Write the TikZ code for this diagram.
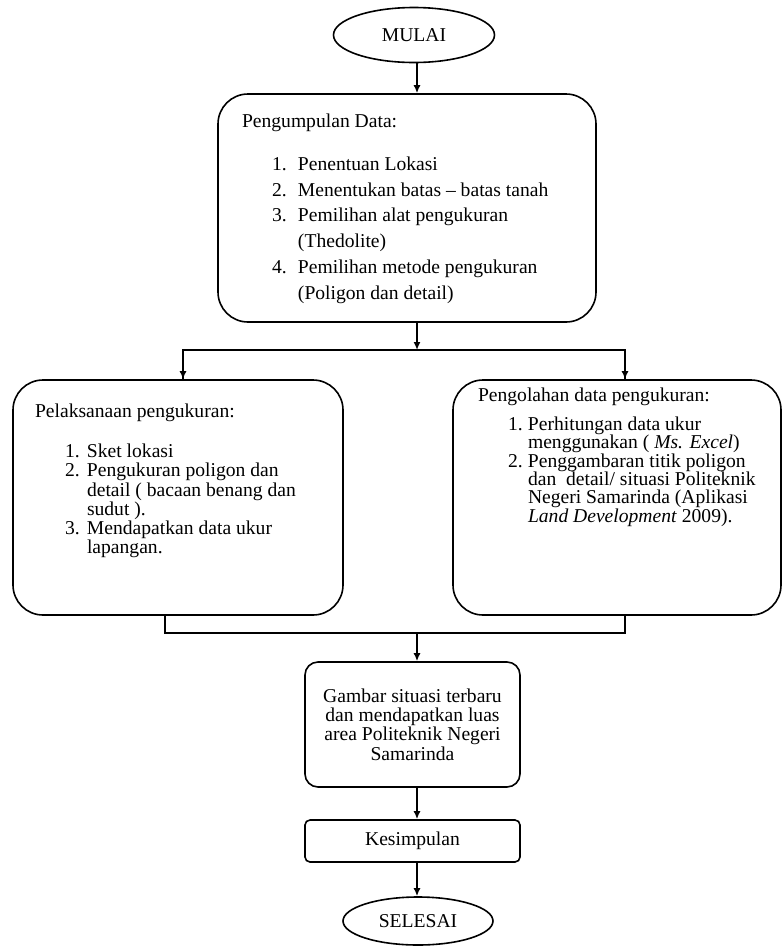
\documentclass[tikz,border=0pt]{standalone}
\usepackage{fontspec}
\setmainfont{Liberation Serif}
\usetikzlibrary{calc,shapes.geometric,arrows.meta}

\newlength{\butirkiri}
\newlength{\butirno}
\newcommand{\butir}[2]{\par\hangindent=\dimexpr\butirkiri+\butirno\relax\hangafter=1
    \noindent\hspace*{\butirkiri}\makebox[\butirno][l]{#1}#2}

\begin{document}
\begin{tikzpicture}[
        x=0.5pt,y=-0.5pt
        ,kotak/.style={draw=black,line width=0.8pt,rounded corners=15pt}
        ,ujung/.style={draw=black,line width=0.8pt,ellipse,inner sep=0pt}
        ,panah/.style={line width=0.8pt,-{Latex[length=4pt,width=3.5pt]}}
        ,garis/.style={line width=0.8pt}
    ]
    \useasboundingbox (0,0) rectangle (782,949);
    % Sumbu tengah dan titik cabang
    \coordinate (sumbu) at (417,0);
    \coordinate (cabang) at (417,350);
    \coordinate (gabung) at (417,633);
    % Awal
    \node[ujung,minimum width=80.5pt,minimum height=27.5pt,font=\fontsize{9.8}{11}\selectfont]
        (mulai) at (414,35) {MULAI};
    % Pengumpulan data
    \node[kotak,inner xsep=12pt,inner ysep=10pt] (kumpul) at (407,208) {%
        \begin{minipage}[t][94pt][t]{165pt}
            \fontsize{9.8}{12.85}\selectfont\raggedright
            \setlength{\butirkiri}{15pt}\setlength{\butirno}{13pt}%
            Pengumpulan Data:\par\vspace{8.6pt}
            \butir{1.}{Penentuan Lokasi}
            \butir{2.}{Menentukan batas -- batas tanah}
            \butir{3.}{Pemilihan alat pengukuran\newline (Thedolite)}
            \butir{4.}{Pemilihan metode pengukuran\newline (Poligon dan detail)}
        \end{minipage}};
    % Pelaksanaan pengukuran
    \node[kotak,inner xsep=11pt,inner ysep=12pt] (ukur) at (178,497.5) {%
        \begin{minipage}[t][93.5pt][t]{143pt}
            \fontsize{9.8}{9.6}\selectfont\raggedright
            \setlength{\butirkiri}{15pt}\setlength{\butirno}{11pt}%
            Pelaksanaan pengukuran:\par\vspace{10.4pt}
            \butir{1.}{Sket lokasi}
            \butir{2.}{Pengukuran poligon dan\newline detail ( bacaan benang dan\newline sudut ).}
            \butir{3.}{Mendapatkan data ukur\newline lapangan.}
        \end{minipage}};
    % Pengolahan data
    \node[kotak,inner xsep=12.5pt,inner ysep=4pt] (olah) at (617,497.5) {%
        \begin{minipage}[t][109.5pt][t]{139pt}
            \fontsize{9.8}{9.15}\selectfont\raggedright
            \setlength{\butirkiri}{15pt}\setlength{\butirno}{10pt}%
            Pengolahan data pengukuran:\par\vspace{5.3pt}
            \butir{1.}{Perhitungan data ukur\newline menggunakan ( \textit{Ms. Excel})}
            \butir{2.}{Penggambaran titik poligon\newline dan\ \ detail/ situasi Politeknik\newline
                Negeri Samarinda (Aplikasi\newline \textit{Land Development} 2009).}
        \end{minipage}};
    % Hasil
    \node[kotak,rounded corners=6.5pt,minimum width=107.5pt,minimum height=62.5pt,
        align=center,font=\fontsize{9.8}{9.65}\selectfont]
        (gambar) at (412.5,724.5) {Gambar situasi terbaru\\dan mendapatkan luas\\area Politeknik Negeri\\Samarinda};
    \node[kotak,rounded corners=2.5pt,minimum width=107.5pt,minimum height=21pt,
        font=\fontsize{9.8}{11}\selectfont]
        (simpul) at (412.5,841) {Kesimpulan};
    % Akhir
    \node[ujung,minimum width=75pt,minimum height=24pt,font=\fontsize{9.8}{11}\selectfont]
        (selesai) at (418,921) {SELESAI};
    % Panah
    \draw[panah] (mulai.south -| sumbu) -- (kumpul.north -| sumbu);
    \draw[panah] (kumpul.south -| sumbu) -- (cabang);
    \draw[garis] (cabang) -| ([xshift=2.5pt]ukur.north);
    \draw[panah] (cabang -| ukur.north) ++(2.5pt,0) -- ([xshift=2.5pt]ukur.north);
    \draw[garis] (cabang) -| ([xshift=4pt]olah.north);
    \draw[panah] (cabang -| olah.north) ++(4pt,0) -- ([xshift=4pt]olah.north);
    \draw[garis] ([xshift=-6.5pt]ukur.south) |- ([xshift=4pt]gabung -| olah.south) -- ([xshift=4pt]olah.south);
    \draw[panah] (gabung) -- (gambar.north -| sumbu);
    \draw[panah] (gambar.south -| sumbu) -- (simpul.north -| sumbu);
    \draw[panah] (simpul.south -| sumbu) -- (selesai.north -| sumbu);
\end{tikzpicture}
\end{document}
